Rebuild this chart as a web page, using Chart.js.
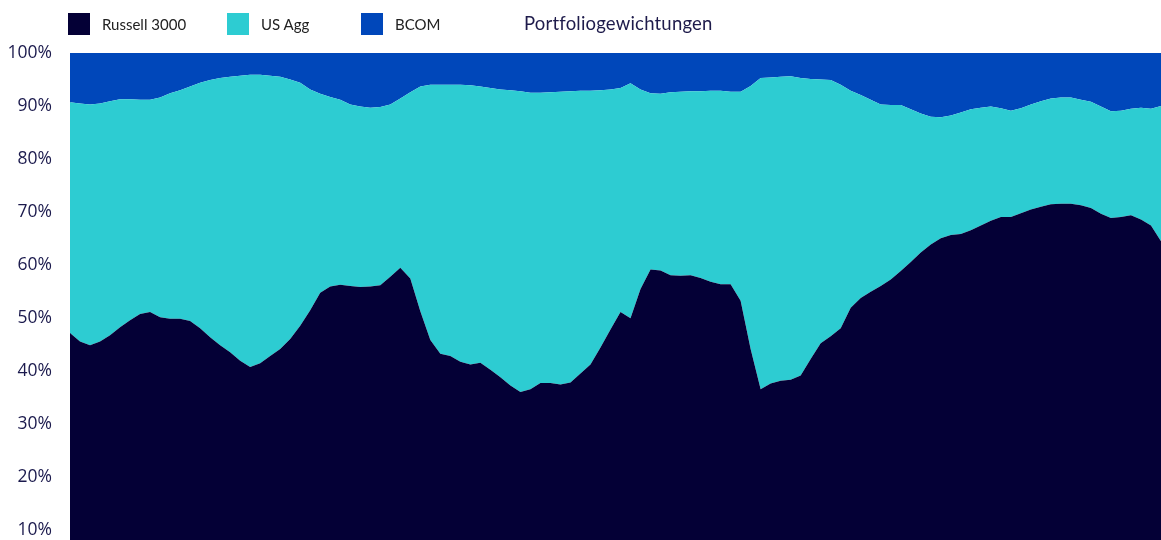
<!DOCTYPE html>
<html>
<head>
<meta charset="utf-8">
<script src="https://cdn.jsdelivr.net/npm/chart.js@4.4.1/dist/chart.umd.min.js"></script>
<style>
	html, body { margin: 0; padding: 0; background: #fff; overflow: hidden; }
	#wrap { position: absolute; left: 0; top: 0; width: 1161px; height: 612px; }
	#legend { position: absolute; top: 13px; left: 0; font-family: Lato, sans-serif; font-size: 15px; color: #222; }
	.item { position: absolute; top: 0; white-space: nowrap; }
	.box { position: absolute; top: 0; left: 0; width: 22px; height: 22px; }
	.label { position: absolute; top: 2px; left: 34px; }
	#title { position: absolute; top: 12px; left: 524px; font-family: Lato, sans-serif; font-size: 18.5px; color: #1e1b4b; letter-spacing: 0.2px; }
</style>
</head>
<body>
<div id="wrap"><canvas id="chart"></canvas></div>
<div id="legend"></div>
<div id="title">Portfoliogewichtungen</div>
<script>
// Portfolio weights, 100% stacked (values in %)

const seriesNames = ['Russell 3000', 'US Agg', 'BCOM'];
const seriesColors = ['#040036', '#2dccd2', '#0047ba'];

const russell = [
	47.2, 45.6, 44.9, 45.6, 46.8, 48.3, 49.6, 50.8, 51.2, 50.2,
	49.9, 49.9, 49.5, 48.1, 46.4, 44.9, 43.6, 42.0, 40.8, 41.5,
	42.9, 44.2, 46.1, 48.6, 51.5, 54.8, 56.0, 56.3, 56.1, 55.9,
	56.0, 56.2, 57.8, 59.5, 57.5, 51.3, 45.9, 43.3, 42.9, 41.8,
	41.3, 41.6, 40.3, 38.9, 37.3, 36.1, 36.6, 37.8, 37.8, 37.5,
	37.9, 39.6, 41.3, 44.5, 47.9, 51.2, 50.0, 55.5, 59.2, 59.0,
	58.1, 58.0, 58.1, 57.6, 56.9, 56.4, 56.4, 53.3, 44.2, 36.6,
	37.7, 38.2, 38.4, 39.2, 42.3, 45.3, 46.6, 48.1, 52.0, 53.8,
	55.0, 56.1, 57.3, 58.9, 60.6, 62.4, 63.9, 65.1, 65.7, 65.9,
	66.6, 67.5, 68.4, 69.1, 69.1, 69.8, 70.5, 71.0, 71.5, 71.6,
	71.6, 71.3, 70.8, 69.7, 68.9, 69.1, 69.4, 68.6, 67.5, 64.5
];

const usAgg = [
	43.5, 44.9, 45.4, 44.9, 44.1, 43.0, 41.7, 40.4, 40.0, 41.4,
	42.5, 43.1, 44.2, 46.3, 48.5, 50.4, 51.9, 53.7, 55.1, 54.4,
	52.8, 51.3, 48.9, 45.8, 41.6, 37.5, 35.7, 34.9, 34.2, 34.0,
	33.7, 33.6, 32.5, 31.9, 35.1, 42.4, 48.1, 50.7, 51.1, 52.2,
	52.6, 52.1, 53.1, 54.2, 55.7, 56.7, 55.9, 54.7, 54.8, 55.2,
	54.9, 53.3, 51.6, 48.5, 45.2, 42.2, 44.3, 37.6, 33.2, 33.3,
	34.5, 34.7, 34.7, 35.2, 36.0, 36.5, 36.3, 39.4, 49.6, 58.7,
	57.7, 57.3, 57.2, 56.1, 52.8, 49.7, 48.3, 45.9, 40.9, 38.3,
	36.2, 34.2, 32.9, 31.3, 28.8, 26.2, 24.1, 22.8, 22.5, 22.9,
	22.8, 22.2, 21.5, 20.5, 20.0, 19.8, 19.8, 19.9, 19.9, 20.0,
	20.0, 19.9, 20.0, 20.2, 20.1, 20.0, 20.1, 21.1, 22.0, 25.5
];

const bcom = [
	9.3, 9.5, 9.7, 9.5, 9.1, 8.7, 8.7, 8.8, 8.8, 8.4,
	7.6, 7.0, 6.3, 5.6, 5.1, 4.7, 4.5, 4.3, 4.1, 4.1,
	4.3, 4.5, 5.0, 5.6, 6.9, 7.7, 8.3, 8.8, 9.7, 10.1,
	10.3, 10.2, 9.7, 8.6, 7.4, 6.3, 6.0, 6.0, 6.0, 6.0,
	6.1, 6.3, 6.6, 6.9, 7.0, 7.2, 7.5, 7.5, 7.4, 7.3,
	7.2, 7.1, 7.1, 7.0, 6.9, 6.6, 5.7, 6.9, 7.6, 7.7,
	7.4, 7.3, 7.2, 7.2, 7.1, 7.1, 7.3, 7.3, 6.2, 4.7,
	4.6, 4.5, 4.4, 4.7, 4.9, 5.0, 5.1, 6.0, 7.1, 7.9,
	8.8, 9.7, 9.8, 9.8, 10.6, 11.4, 12.0, 12.1, 11.8, 11.2,
	10.6, 10.3, 10.1, 10.4, 10.9, 10.4, 9.7, 9.1, 8.6, 8.4,
	8.4, 8.8, 9.2, 10.1, 11.0, 10.9, 10.5, 10.3, 10.5, 10.0
];

// x axis is hidden in the picture, one category per observation
const labels = russell.map((_, i) => String(i + 1));

const yTicks = [0, 10, 20, 30, 40, 50, 60, 70, 80, 90, 100];

const values = [russell, usAgg, bcom];

const datasets = seriesNames.map((name, i) => ({
	label: name,
	data: values[i],
	backgroundColor: seriesColors[i],
	borderWidth: 0,
	pointRadius: 0,
	tension: 0,
	fill: i === 0 ? 'origin' : '-1'
}));

// simple html legend, positions follow the picture
const legendX = [68, 227, 361];
const legendEl = document.getElementById('legend');
datasets.forEach((ds, i) => {
	const item = document.createElement('div');
	item.className = 'item';
	item.style.left = legendX[i] + 'px';
	item.innerHTML = '<div class="box" style="background:' + ds.backgroundColor + '"></div>' +
		'<div class="label">' + ds.label + '</div>';
	legendEl.appendChild(item);
});

const chart = new Chart(document.getElementById('chart'), {
	type: 'line',
	data: { labels, datasets },
	options: {
		responsive: true,
		maintainAspectRatio: false,
		animation: false,
		layout: { padding: { top: 53, bottom: 19, left: 0, right: 0 } },
		plugins: {
			legend: { display: false },
			tooltip: { enabled: false }
		},
		scales: {
			x: {
				display: false,
				offset: false,
				stacked: true
			},
			y: {
				stacked: true,
				min: 0,
				max: 100,
				z: 1,
				afterFit: scale => { scale.width = 70; },
				afterBuildTicks: scale => { scale.ticks = yTicks.map(v => ({ value: v })); },
				border: { display: true, color: '#a3adc8', width: 1 },
				grid: {
					drawTicks: false,
					color: ctx => (ctx.tick && ctx.tick.value === 100 ? '#b4c3e2' : 'rgba(0,0,0,0)')
				},
				ticks: {
					padding: 18,
					color: '#1b1a4d',
					font: { family: 'Open Sans', size: 17.5 },
					callback: v => v + '%'
				}
			}
		}
	}
});
</script>
</body>
</html>
